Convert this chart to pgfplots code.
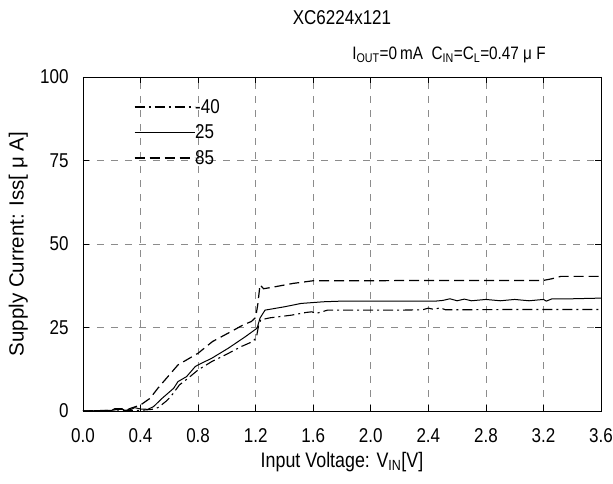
\documentclass[border=0pt]{standalone}
\usepackage{fontspec}
\setmainfont{Liberation Sans}[FakeStretch=0.85]
\newfontfamily\ylabfont{Liberation Sans}
\usepackage{pgfplots}
\pgfplotsset{compat=1.18}
\pgfplotstableread{
x y
0 0
0.1 0
0.2 0
0.3 0.1
0.4 0.2
0.48 0.5
0.52 1.0
0.545 1.8
0.58 3.0
0.61 4.3
0.67 7.8
0.73 9.8
0.80 12.3
0.895 14.8
0.99 16.8
1.10 19.3
1.18 20.8
1.205 22
1.22 25.5
1.235 27.3
1.30 27.9
1.45 28.7
1.55 29.5
1.59 29.7
1.62 29.2
1.70 30.2
1.80 30.2
2.0 30.2
2.2 30.2
2.36 30.3
2.40 30.8
2.44 30.4
2.48 30.9
2.52 30.3
2.6 30.3
3.0 30.4
3.6 30.4
}\mfour
\pgfplotstableread{
x y
0 0
0.2 0.2
0.22 0.7
0.27 0.7
0.29 0.2
0.33 0.4
0.36 1.0
0.40 0.6
0.45 0.5
0.49 1.3
0.55 3.8
0.63 6.8
0.66 8.8
0.72 10.3
0.78 13.3
0.80 13.8
0.895 15.8
1.01 18.8
1.13 22.3
1.21 24.8
1.23 27.8
1.265 30.2
1.40 31.2
1.515 32.2
1.67 32.7
1.8 32.9
2.0 32.9
2.2 32.9
2.45 32.9
2.5 33.1
2.55 33.6
2.6 33.0
2.65 33.5
2.7 33.0
2.8 33.4
2.9 33.0
3.0 33.4
3.1 33.0
3.2 33.4
3.22 32.9
3.26 33.6
3.4 33.6
3.6 33.8
}\tfive
\pgfplotstableread{
x y
0 0
0.2 0.2
0.24 0.5
0.28 0.5
0.30 0.2
0.33 0.8
0.40 1.8
0.466 3.8
0.52 6.8
0.59 10.3
0.66 13.8
0.72 15.3
0.80 17.3
0.90 20.8
1.03 23.8
1.11 25.7
1.17 26.8
1.20 28.0
1.215 32
1.23 37.8
1.255 36.6
1.335 37.2
1.46 38.2
1.60 39.0
1.8 39.0
2.0 39.0
2.4 39.1
2.8 39.1
3.2 39.1
3.26 39.6
3.32 40.3
3.6 40.3
}\efive
\begin{document}
\begin{tikzpicture}
\useasboundingbox (-83pt,-73pt) rectangle (530pt,411pt);
\begin{axis}[
  name=ax,
  scale only axis, width=518pt, height=334pt,
  xmin=0, xmax=3.6, ymin=0, ymax=100,
  xtick={0,0.4,0.8,1.2,1.6,2.0,2.4,2.8,3.2,3.6},
  xticklabels={0.0,0.4,0.8,1.2,1.6,2.0,2.4,2.8,3.2,3.6},
  ytick={0,25,50,75,100},
  tick align=inside, major tick length=6pt,
  grid=major,
  major grid style={color=black!45, line width=0.6pt, dash pattern=on 7pt off 7pt},
  axis line style={black, line width=0.8pt},
  tick style={black, line width=0.6pt},
  ticklabel style={font=\fontsize{20}{24}\selectfont},
  xticklabel style={anchor=center, yshift=-25pt},
  yticklabel style={anchor=east, xshift=-11pt},
  /pgf/number format/assume math mode=true,
  xlabel={Input Voltage: V\textsubscript{IN}[V]},
  xlabel style={font=\fontsize{21}{25}\selectfont, at={(axis description cs:0.5,-0.1527)}, anchor=center},
  ylabel={\ylabfont Supply Current: Iss[ μ A]},
  ylabel style={font=\fontsize{20.5}{24}\selectfont, at={(axis description cs:-0.125,0.5)}, anchor=center},
  legend style={at={(axis cs:0.353,93.4)}, anchor=north west, draw=none, fill=none,
    font=\fontsize{20}{24}\selectfont, inner sep=0pt, row sep=10pt,
    nodes={inner sep=0pt}, cells={anchor=west}},
  legend image code/.code={\draw[#1] (0pt,0pt) -- (60pt,0pt);},
  /tikz/every even column/.append style={column sep=2pt},
]
\addplot[black, line width=1.1pt, dash pattern=on 10pt off 4pt on 2pt off 4pt] table {\mfour};
\addlegendentry{-40}
\addplot[black, line width=1.0pt] table {\tfive};
\addlegendentry{25}
\addplot[black, line width=1.2pt, dash pattern=on 10pt off 5pt] table {\efive};
\addlegendentry{85}
\end{axis}
\node[font=\fontsize{20}{24}\selectfont, anchor=center] at ([yshift=59.5pt]ax.north) {XC6224x121};
\node[font=\fontsize{18}{22}\selectfont, anchor=center] at ([xshift=366pt,yshift=22pt]ax.north west) {I\textsubscript{OUT}=0\,mA\ \ C\textsubscript{IN}=C\textsubscript{L}=0.47 μ F};
\end{tikzpicture}
\end{document}
